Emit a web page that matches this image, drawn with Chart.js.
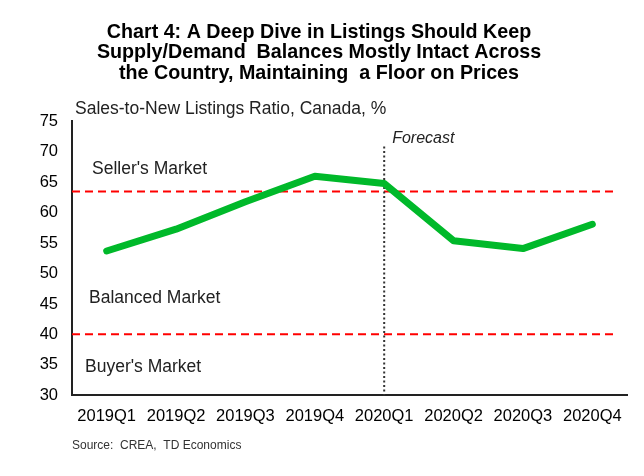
<!DOCTYPE html>
<html>
<head>
    <title>Sales-to-New Listings Ratio</title>
    <script src="https://cdn.jsdelivr.net/npm/chart.js@4"></script>
    <style>
        body { margin: 0; background: #fff; }
        #wrap { width: 644px; height: 476px; position: relative; }
    </style>
</head>
<body>
    <div id="wrap">
        <canvas id="chart"></canvas>
    </div>

    <script>
        // quarters and the ratio
        const quarters = ['2019Q1', '2019Q2', '2019Q3', '2019Q4', '2020Q1', '2020Q2', '2020Q3', '2020Q4'];
        const ratio = [53.7, 57.3, 61.8, 66.0, 64.8, 55.4, 54.1, 58.1];
        const thresholds = [63.5, 40];
        const forecastStart = '2020Q1';
        const marketLabels = ["Seller's Market", 'Balanced Market', "Buyer's Market"];
        const marketLabelValues = [67.2, 46, 34.6];

        const font = 'Arial, "Liberation Sans", sans-serif';

        const extras = {
            id: 'extras',
            beforeDatasetsDraw(chart) {
                const ctx = chart.ctx;
                const area = chart.chartArea;
                const x = chart.scales.x, y = chart.scales.y;
                ctx.save();

                // threshold lines
                ctx.strokeStyle = '#ff0000';
                ctx.lineWidth = 2;
                ctx.setLineDash([8, 5]);
                thresholds.forEach(v => {
                    const py = y.getPixelForValue(v);
                    ctx.beginPath();
                    ctx.moveTo(area.left, py);
                    ctx.lineTo(area.right - 9, py);
                    ctx.stroke();
                });

                // forecast divider
                const fx = x.getPixelForValue(quarters.indexOf(forecastStart));
                ctx.strokeStyle = '#333';
                ctx.lineWidth = 2;
                ctx.setLineDash([2, 2.5]);
                ctx.beginPath();
                ctx.moveTo(fx, y.getPixelForValue(70.9));
                ctx.lineTo(fx, area.bottom);
                ctx.stroke();
                ctx.setLineDash([]);

                ctx.fillStyle = '#222';
                ctx.textBaseline = 'middle';
                ctx.font = 'italic 16px ' + font;
                ctx.fillText('Forecast', fx + 8, y.getPixelForValue(72.2));

                ctx.font = '17.5px ' + font;
                const offs = [20, 17, 13];
                marketLabels.forEach((t, i) => {
                    ctx.fillText(t, area.left + offs[i], y.getPixelForValue(marketLabelValues[i]));
                });

                // axis title and source
                ctx.font = '17.5px ' + font;
                ctx.textBaseline = 'alphabetic';
                ctx.fillText('Sales-to-New Listings Ratio, Canada, %', area.left + 3, area.top - 7);
                ctx.font = '12px ' + font;
                ctx.fillStyle = '#333';
                ctx.fillText('Source:  CREA,  TD Economics', area.left, area.bottom + 54);
                ctx.restore();
            }
        };

        new Chart(document.getElementById('chart'), {
            type: 'line',
            data: {
                labels: quarters,
                datasets: [{
                    data: ratio,
                    borderColor: '#00b92a',
                    borderWidth: 7,
                    pointRadius: 0,
                    tension: 0,
                    borderCapStyle: 'round',
                    borderJoinStyle: 'round'
                }]
            },
            options: {
                responsive: true,
                maintainAspectRatio: false,
                animation: false,
                layout: { padding: { left: 11, right: 17, top: 0, bottom: 47 } },
                plugins: {
                    legend: { display: false },
                    tooltip: { enabled: false },
                    title: {
                        display: true,
                        text: ['Chart 4: A Deep Dive in Listings Should Keep',
                               'Supply/Demand  Balances Mostly Intact Across',
                               'the Country, Maintaining  a Floor on Prices'],
                        color: '#000',
                        font: { family: font, size: 19.7, weight: 'bold', lineHeight: 1.04 },
                        padding: { top: 22, bottom: 38 }
                    }
                },
                scales: {
                    x: {
                        offset: true,
                        grid: { display: false },
                        border: { display: true, color: '#222', width: 2 },
                        ticks: { color: '#000', font: { family: font, size: 16.5 }, maxRotation: 0, autoSkip: false, padding: 3 }
                    },
                    y: {
                        min: 30,
                        max: 75,
                        grid: { display: false },
                        border: { display: true, color: '#222', width: 2 },
                        ticks: { stepSize: 5, color: '#000', font: { family: font, size: 16.5 }, padding: 6 },
                        afterFit(scale) { scale.width = 61; }
                    }
                }
            },
            plugins: [extras]
        });
    </script>
</body>
</html>
